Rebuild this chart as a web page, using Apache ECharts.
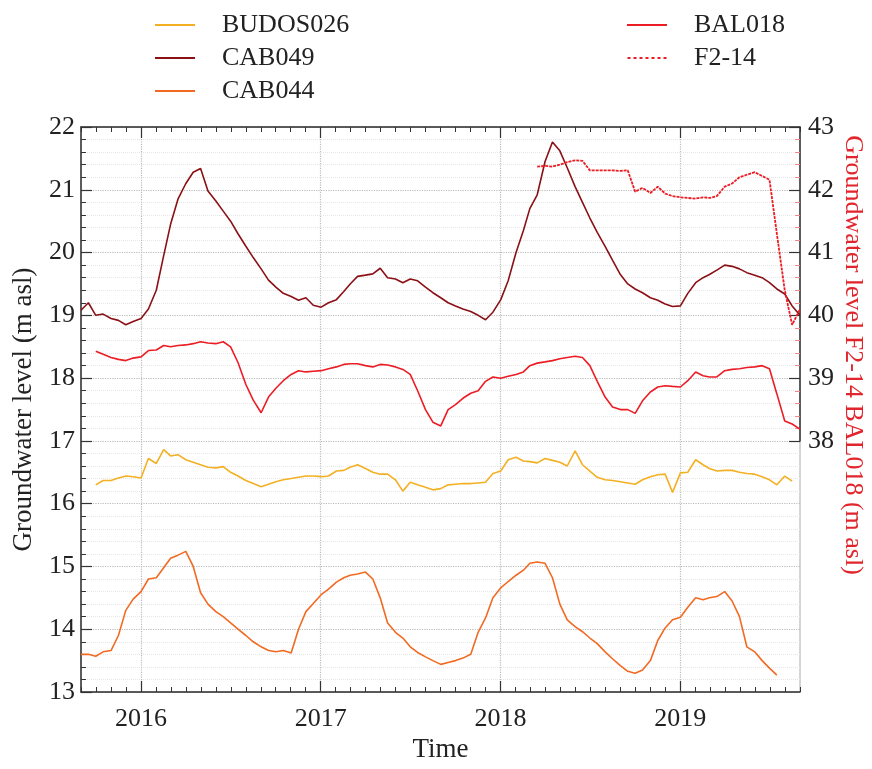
<!DOCTYPE html>
<html><head><meta charset="utf-8">
<script src="https://cdn.jsdelivr.net/npm/echarts@6/dist/echarts.min.js"></script>
<style>html,body{margin:0;padding:0;background:#fff}#c{width:872px;height:769px}</style>
</head><body><div id="c"></div>
<script>
const dates = ['2015-09-01','2015-09-16','2015-10-01','2015-10-16','2015-11-01','2015-11-16','2015-12-01','2015-12-16',
'2016-01-01','2016-01-16','2016-02-01','2016-02-16','2016-03-01','2016-03-16','2016-04-01','2016-04-16','2016-05-01','2016-05-16','2016-06-01','2016-06-16','2016-07-01','2016-07-16','2016-08-01','2016-08-16','2016-09-01','2016-09-16','2016-10-01','2016-10-16','2016-11-01','2016-11-16','2016-12-01','2016-12-16',
'2017-01-01','2017-01-16','2017-02-01','2017-02-16','2017-03-01','2017-03-16','2017-04-01','2017-04-16','2017-05-01','2017-05-16','2017-06-01','2017-06-16','2017-07-01','2017-07-16','2017-08-01','2017-08-16','2017-09-01','2017-09-16','2017-10-01','2017-10-16','2017-11-01','2017-11-16','2017-12-01','2017-12-16',
'2018-01-01','2018-01-16','2018-02-01','2018-02-16','2018-03-01','2018-03-16','2018-04-01','2018-04-16','2018-05-01','2018-05-16','2018-06-01','2018-06-16','2018-07-01','2018-07-16','2018-08-01','2018-08-16','2018-09-01','2018-09-16','2018-10-01','2018-10-16','2018-11-01','2018-11-16','2018-12-01','2018-12-16',
'2019-01-01','2019-01-16','2019-02-01','2019-02-16','2019-03-01','2019-03-16','2019-04-01','2019-04-16','2019-05-01','2019-05-16','2019-06-01','2019-06-16','2019-07-01','2019-07-16','2019-08-01','2019-08-16','2019-09-01'];

const months = ['2015-09','2015-10','2015-11','2015-12',
'2016-01','2016-02','2016-03','2016-04','2016-05','2016-06','2016-07','2016-08','2016-09','2016-10','2016-11','2016-12',
'2017-01','2017-02','2017-03','2017-04','2017-05','2017-06','2017-07','2017-08','2017-09','2017-10','2017-11','2017-12',
'2018-01','2018-02','2018-03','2018-04','2018-05','2018-06','2018-07','2018-08','2018-09','2018-10','2018-11','2018-12',
'2019-01','2019-02','2019-03','2019-04','2019-05','2019-06','2019-07','2019-08','2019-09'];
const yearLabels = ['2016','2017','2018','2019'];

const budos026 = [null,null,16.3,16.37,16.37,16.41,16.44,16.43,16.41,16.72,
16.64,16.86,16.76,16.78,16.7,16.66,16.62,16.58,16.57,16.59,
16.5,16.44,16.37,16.32,16.27,16.31,16.35,16.38,16.4,16.42,
16.44,16.44,16.43,16.44,16.52,16.53,16.58,16.62,16.56,16.5,
16.47,16.47,16.38,16.2,16.34,16.3,16.26,16.22,16.24,16.3,
16.31,16.32,16.32,16.33,16.34,16.48,16.52,16.7,16.74,16.68,
16.67,16.65,16.72,16.69,16.66,16.6,16.84,16.62,16.52,16.42,
16.38,16.37,16.35,16.33,16.31,16.38,16.43,16.46,16.47,16.18,
16.49,16.5,16.7,16.62,16.56,16.52,16.53,16.53,16.5,16.48,
16.47,16.43,16.38,16.3,16.44,16.36,null];

const cab049 = [19.08,19.2,19.0,19.02,18.95,18.92,18.85,18.9,18.95,19.1,
19.4,19.95,20.45,20.85,21.1,21.28,21.34,20.98,20.82,20.66,
20.5,20.3,20.1,19.92,19.74,19.56,19.45,19.35,19.3,19.24,
19.28,19.16,19.13,19.2,19.25,19.38,19.5,19.62,19.64,19.66,
19.75,19.6,19.58,19.52,19.58,19.55,19.45,19.36,19.28,19.2,
19.15,19.1,19.06,19.0,18.93,19.05,19.25,19.55,20.0,20.35,
20.7,20.92,21.45,21.76,21.62,21.35,21.05,20.8,20.55,20.32,
20.1,19.88,19.65,19.5,19.42,19.36,19.28,19.24,19.18,19.14,
19.15,19.35,19.52,19.6,19.65,19.72,19.8,19.78,19.74,19.68,
19.64,19.6,19.52,19.42,19.34,19.15,19.0];

const cab044 = [13.6,13.6,13.57,13.64,13.66,13.9,14.3,14.48,14.6,14.8,
14.82,14.98,15.13,15.18,15.24,15.0,14.58,14.4,14.28,14.2,
14.1,14.0,13.9,13.8,13.72,13.66,13.64,13.66,13.62,14.0,
14.28,14.41,14.55,14.64,14.75,14.82,14.86,14.88,14.91,14.8,
14.5,14.1,13.95,13.86,13.72,13.63,13.56,13.5,13.44,13.47,
13.5,13.54,13.6,13.95,14.18,14.5,14.66,14.76,14.86,14.94,
15.05,15.07,15.05,14.82,14.4,14.15,14.04,13.96,13.86,13.77,
13.64,13.53,13.42,13.33,13.3,13.35,13.5,13.82,14.02,14.15,
14.19,14.35,14.5,14.47,14.5,14.52,14.6,14.45,14.2,13.72,
13.64,13.5,13.38,13.27,null,null,null];

const bal018 = [null,null,39.43,39.38,39.33,39.3,39.28,39.32,39.34,39.44,
39.45,39.52,39.5,39.52,39.53,39.55,39.58,39.56,39.55,39.58,
39.5,39.25,38.9,38.65,38.45,38.7,38.84,38.96,39.06,39.12,
39.1,39.11,39.12,39.15,39.18,39.22,39.23,39.23,39.2,39.18,
39.22,39.21,39.18,39.14,39.06,38.8,38.5,38.3,38.24,38.5,
38.58,38.68,38.76,38.8,38.95,39.02,39.0,39.03,39.06,39.1,
39.2,39.24,39.26,39.28,39.31,39.33,39.35,39.33,39.2,38.95,
38.7,38.54,38.5,38.5,38.44,38.64,38.78,38.86,38.88,38.87,
38.86,38.96,39.1,39.04,39.02,39.02,39.12,39.14,39.15,39.17,
39.18,39.2,39.15,38.75,38.32,38.27,38.19];

const f214 = [null,null,null,null,null,null,null,null,null,null,
null,null,null,null,null,null,null,null,null,null,
null,null,null,null,null,null,null,null,null,null,
null,null,null,null,null,null,null,null,null,null,
null,null,null,null,null,null,null,null,null,null,
null,null,null,null,null,null,null,null,null,null,
null,42.37,42.38,42.37,42.4,42.44,42.47,42.46,42.31,42.31,
42.31,42.31,42.3,42.31,41.97,42.03,41.95,42.05,41.94,41.9,
41.88,41.87,41.86,41.88,41.87,41.9,42.05,42.1,42.2,42.24,
42.28,42.22,42.16,41.3,40.4,39.85,40.1];

const FONT = '"Liberation Serif","Times New Roman",serif';
const pair = arr => dates.map((d, i) => [d, arr[i]]);
const isJan = (idx) => months[idx].slice(5) === '01';
const LINE_ICON = 'rect';
const DOT_ICON = 'path://M0,0h3v2h-3zM6,0h3v2h-3zM12,0h3v2h-3zM18,0h3v2h-3zM24,0h3v2h-3zM30,0h3v2h-3zM36,0h3v2h-3z';

const chart = echarts.init(document.getElementById('c'), null, {renderer: 'canvas'});
const axisLineStyle = {color: '#333', width: 1.5};
const legendText = {fontFamily: FONT, fontSize: 26, color: '#222', padding: [0, 0, 0, 22]};

chart.setOption({
  animation: false,
  backgroundColor: '#fff',
  grid: [
    {left: 81, right: 72, top: 127, bottom: 77, show: true, borderColor: '#aaa', borderWidth: 1,
     containLabel: false, outerBoundsMode: 'none'},
    {left: 81, right: 72, top: 127, bottom: 328, containLabel: false, outerBoundsMode: 'none'}
  ],
  legend: [
    {data: [{name: 'BUDOS026', icon: LINE_ICON}, {name: 'CAB049', icon: LINE_ICON}, {name: 'CAB044', icon: LINE_ICON}],
     orient: 'vertical', left: 150, top: 7, itemWidth: 40, itemHeight: 2, itemGap: 7, textStyle: legendText},
    {data: [{name: 'BAL018', icon: LINE_ICON}, {name: 'F2-14', icon: DOT_ICON}],
     orient: 'vertical', left: 622, top: 7, itemWidth: 40, itemHeight: 2, itemGap: 7, textStyle: legendText}
  ],
  xAxis: [
    {type: 'time', gridIndex: 0, min: '2015-09-01', max: '2019-09-01', show: false},
    {type: 'category', gridIndex: 0, data: months, boundaryGap: false, position: 'bottom',
     axisLine: {show: true, lineStyle: axisLineStyle},
     axisTick: {show: true, inside: true, length: 5, interval: 0, lineStyle: {color: '#333'}},
     axisLabel: {show: false}, splitLine: {show: false}},
    {type: 'category', gridIndex: 0, data: months, boundaryGap: false, position: 'bottom',
     name: 'Time', nameLocation: 'middle', nameGap: 44,
     nameTextStyle: {fontFamily: FONT, fontSize: 27, color: '#222'},
     axisLine: {show: false},
     axisTick: {show: true, inside: true, length: 11, interval: (i) => isJan(i), lineStyle: {color: '#333', width: 1.2}},
     axisLabel: {show: true, interval: (i) => isJan(i), margin: 14, fontFamily: FONT, fontSize: 26, color: '#222',
                 formatter: (v) => yearLabels[yearLabels.indexOf(v.slice(0, 4))] || ''},
     splitLine: {show: true, interval: (i) => isJan(i), lineStyle: {color: '#bbb', type: 'dotted', width: 1.2}}},
    {type: 'category', gridIndex: 0, data: months, boundaryGap: false, position: 'top',
     axisLine: {show: true, lineStyle: axisLineStyle},
     axisTick: {show: true, inside: true, length: 5, interval: 0, lineStyle: {color: '#333'}},
     axisLabel: {show: false}, splitLine: {show: false}},
    {type: 'category', gridIndex: 0, data: months, boundaryGap: false, position: 'top',
     axisLine: {show: false},
     axisTick: {show: true, inside: true, length: 11, interval: (i) => isJan(i), lineStyle: {color: '#333', width: 1.2}},
     axisLabel: {show: false}, splitLine: {show: false}},
    {type: 'time', gridIndex: 1, min: '2015-09-01', max: '2019-09-01', show: false}
  ],
  yAxis: [
    {type: 'value', gridIndex: 0, min: 13, max: 22, interval: 1, position: 'left',
     name: 'Groundwater level (m asl)', nameLocation: 'middle', nameGap: 44,
     nameTextStyle: {fontFamily: FONT, fontSize: 27, color: '#222'},
     axisLine: {show: true, lineStyle: axisLineStyle},
     axisTick: {show: true, inside: true, length: 11, lineStyle: {color: '#333', width: 1.2}},
     minorTick: {show: true, splitNumber: 5, length: 5, lineStyle: {color: '#333'}},
     axisLabel: {fontFamily: FONT, fontSize: 26, color: '#222', margin: 6},
     splitLine: {show: true, lineStyle: {color: '#bbb', type: 'dotted', width: 1.2}},
     minorSplitLine: {show: true, lineStyle: {color: '#e6e6e6', type: 'dotted'}}},
    {type: 'value', gridIndex: 1, min: 38, max: 43, interval: 1, position: 'right',
     axisLine: {show: true, lineStyle: axisLineStyle},
     axisTick: {show: true, inside: true, length: 11, lineStyle: {color: '#333', width: 1.2}},
     minorTick: {show: true, splitNumber: 5, length: 5, lineStyle: {color: '#e88'}},
     axisLabel: {fontFamily: FONT, fontSize: 26, color: '#222', margin: 8},
     splitLine: {show: false}}
  ],
  graphic: [
    {type: 'text', x: 853, y: 355, rotation: -Math.PI / 2,
     style: {text: 'Groundwater level F2-14 BAL018 (m asl)', fill: '#e0262c', font: '26px "Liberation Serif"',
             align: 'center', verticalAlign: 'middle'}}
  ],
  series: [
    {name: 'BUDOS026', type: 'line', xAxisIndex: 0, yAxisIndex: 0, data: pair(budos026), symbol: 'none',
     lineStyle: {color: '#f3b023', width: 1.6}, itemStyle: {color: '#f3b023'}},
    {name: 'CAB049', type: 'line', xAxisIndex: 0, yAxisIndex: 0, data: pair(cab049), symbol: 'none',
     lineStyle: {color: '#8b1015', width: 1.6}, itemStyle: {color: '#8b1015'}},
    {name: 'CAB044', type: 'line', xAxisIndex: 0, yAxisIndex: 0, data: pair(cab044), symbol: 'none',
     lineStyle: {color: '#f26a22', width: 1.6}, itemStyle: {color: '#f26a22'}},
    {name: 'BAL018', type: 'line', xAxisIndex: 5, yAxisIndex: 1, data: pair(bal018), symbol: 'none',
     lineStyle: {color: '#ec1c24', width: 1.6}, itemStyle: {color: '#ec1c24'}},
    {name: 'F2-14', type: 'line', xAxisIndex: 5, yAxisIndex: 1, data: pair(f214), symbol: 'none',
     lineStyle: {color: '#ec1c24', width: 1.8, type: [3, 1]}, itemStyle: {color: '#ec1c24'}}
  ]
});
</script></body></html>
